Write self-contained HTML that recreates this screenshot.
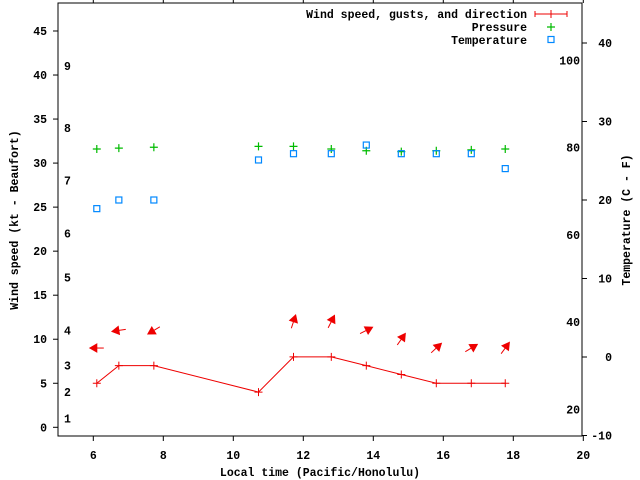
<!DOCTYPE html>
<html><head><meta charset="utf-8"><style>
html,body{margin:0;padding:0;background:#fff;}
svg{display:block;font-family:"Liberation Mono",monospace;font-weight:bold;font-size:11.5px;}
</style></head><body>
<svg id="chart" width="640" height="480" viewBox="0 0 640 480" xmlns="http://www.w3.org/2000/svg">
<rect x="0" y="0" width="640" height="480" fill="#fff"/>
<g id="axes"></g>
<g id="marks"></g>
<g id="legend">
<text x="527" y="18" text-anchor="end">Wind speed, gusts, and direction</text>
<line x1="535" y1="14" x2="567" y2="14" stroke="#e00" stroke-width="1"/>
<line x1="535" y1="11" x2="535" y2="17" stroke="#e00"/>
<line x1="567" y1="11" x2="567" y2="17" stroke="#e00"/>
<path d="M547 14h8M551 10v8" stroke="#e00"/>
<text x="527" y="31" text-anchor="end">Pressure</text>
<path d="M547 27h8M551 23v8" stroke="#0b0" stroke-width="1.2"/>
<text x="527" y="44" text-anchor="end">Temperature</text>
<rect x="548" y="36.5" width="6" height="6" fill="none" stroke="#08f" stroke-width="1.2"/>
</g>
<text x="320" y="476" text-anchor="middle">Local time (Pacific/Honolulu)</text>
<text transform="translate(18,220) rotate(-90)" text-anchor="middle">Wind speed (kt - Beaufort)</text>
<text transform="translate(630,220) rotate(-90)" text-anchor="middle">Temperature (C - F)</text>
</svg>
<script>
const times = [6.1, 6.73, 7.73, 10.72, 11.72, 12.8, 13.8, 14.8, 15.8, 16.8, 17.77];
const windKt = [5, 7, 7, 4, 8, 8, 7, 6, 5, 5, 5];
const gustKt = [9, 11, 11, null, 12, 12, 11, 10, 9, 9, 9];
const arrowDeg = [180, 189, 211, null, 72, 63, 27, 55, 43, 31, 54];
const pressure = [31.6, 31.7, 31.8, 31.9, 31.9, 31.6, 31.4, 31.3, 31.4, 31.5, 31.6];
const tempC = [18.9, 20.0, 20.0, 25.1, 25.9, 25.9, 27.0, 25.9, 25.9, 25.9, 24.0];
const xTicks = [6, 8, 10, 12, 14, 16, 18, 20];
const yTicks = [0, 5, 10, 15, 20, 25, 30, 35, 40, 45];
const cTicks = [-10, 0, 10, 20, 30, 40];
const fTicks = [20, 40, 60, 80, 100];
const beaufort = [1, 4, 7, 11, 17, 22, 28, 34, 41];

const NS = "http://www.w3.org/2000/svg";
const X = t => 58.3 + (t - 5) * 35;
const Y = v => 427.3 - v * 8.807;
const YC = c => 357 - c * 7.85;
const YF = f => YC((f - 32) * 5 / 9);
const axes = document.getElementById('axes');
const marks = document.getElementById('marks');
function mk(tag, attrs, parent, txt) {
  const e = document.createElementNS(NS, tag);
  for (const k in attrs) e.setAttribute(k, attrs[k]);
  if (txt !== undefined) e.textContent = txt;
  parent.appendChild(e);
  return e;
}
let e = mk('rect', {x: 58, y: 3, width: 524, height: 433, fill: 'none', stroke: '#000', 'stroke-width': 1}, axes);


xTicks.forEach(t => {
  const x = X(t);
  let l = mk('line', {x1: x, y1: 436, x2: x, y2: 441, stroke: '#000'}, axes);
  
  
  let l2 = mk('line', {x1: x, y1: 3, x2: x, y2: 0, stroke: '#000'}, axes);
  
  
  let tx = mk('text', {x: x, y: 459, 'text-anchor': 'middle'}, axes, String(t));
  
  
});
yTicks.forEach(v => {
  const y = Y(v);
  let l = mk('line', {x1: 53, y1: y, x2: 58, y2: y, stroke: '#000'}, axes);
  
  
  let tx = mk('text', {x: 47, y: y + 4, 'text-anchor': 'end'}, axes, String(v));
  
  
});
beaufort.forEach((v, i) => {
  let tx = mk('text', {x: 64, y: Y(v) + 4}, axes, String(i + 1));
  
  
});
cTicks.forEach(c => {
  const y = YC(c);
  let l = mk('line', {x1: 582, y1: y, x2: 587, y2: y, stroke: '#000'}, axes);
  
  
  let tx = mk('text', {x: 612, y: y + 4, 'text-anchor': 'end'}, axes, String(c));
  
  
});
fTicks.forEach(f => {
  let tx = mk('text', {x: 580, y: YF(f) + 4, 'text-anchor': 'end'}, axes, String(f));
  
  
});
let pl = mk('polyline', {points: times.map((t, i) => X(t) + ',' + Y(windKt[i])).join(' '), fill: 'none', stroke: '#e00', 'stroke-width': 1}, marks);


times.forEach((t, i) => {
  const x = X(t), y = Y(windKt[i]);
  let p = mk('path', {d: `M${x-4} ${y}h8M${x} ${y-4}v8`, stroke: '#e00'}, marks);
  
  
  const py = Y(pressure[i]);
  let pp = mk('path', {d: `M${x-4} ${py}h8M${x} ${py-4}v8`, stroke: '#0b0', 'stroke-width': 1.2}, marks);
  
  
  const ty = YC(tempC[i]);
  let r = mk('rect', {x: x - 3, y: ty - 3, width: 6, height: 6, fill: 'none', stroke: '#08f', 'stroke-width': 1.2}, marks);
  
  
  if (gustKt[i] !== null) {
    const gy = Y(gustKt[i]);
    const a = arrowDeg[i] * Math.PI / 180;
    const dx = Math.cos(a), dy = -Math.sin(a);
    const hx = x + dx * 7, hy = gy + dy * 7, tx0 = x - dx * 7, ty0 = gy - dy * 7;
    const bx = hx - dx * 7, by = hy - dy * 7;
    const g = mk('g', {}, marks);
    
    
    mk('line', {x1: tx0, y1: ty0, x2: bx, y2: by, stroke: '#e00'}, g);
    mk('polygon', {points: `${hx},${hy} ${bx - dy * 4},${by + dx * 4} ${bx + dy * 4},${by - dx * 4}`, fill: '#e00', stroke: '#e00'}, g);
  }
});
</script>
</body></html>
